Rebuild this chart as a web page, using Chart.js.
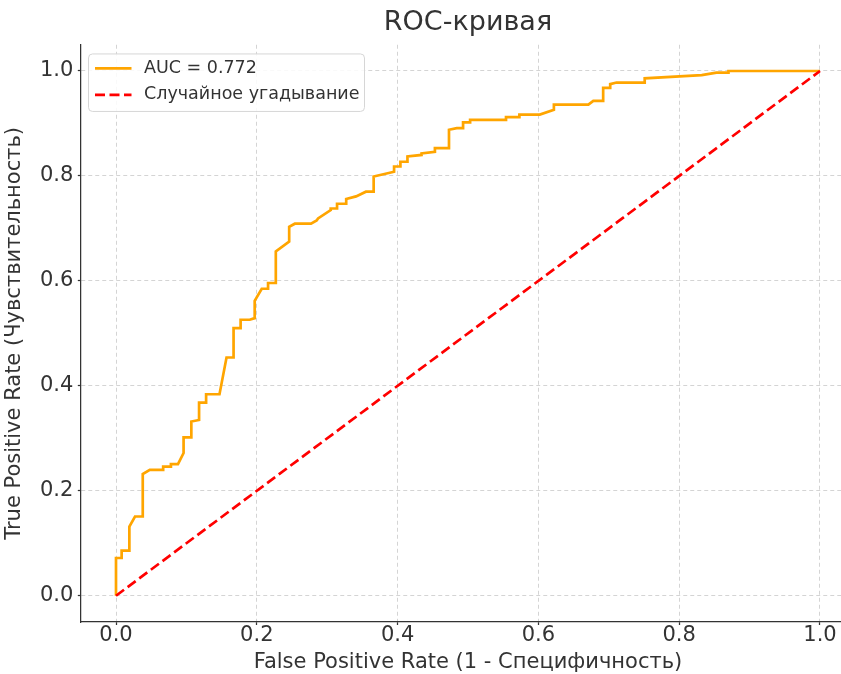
<!DOCTYPE html>
<html>
<head>
<meta charset="utf-8">
<script src="https://cdn.jsdelivr.net/npm/chart.js@4.4.1/dist/chart.umd.min.js"></script>
<style>
  html, body { margin: 0; padding: 0; background: #ffffff; overflow: hidden; }
  #wrap { width: 880px; height: 674px; }
</style>
</head>
<body>
<div id="wrap"><canvas id="roc" width="880" height="674"></canvas></div>
<script>
// ROC curve points (false positive rate / true positive rate)
const fpr = [0, 0, 0.008, 0.008, 0.019, 0.019, 0.027, 0.038, 0.038, 0.048,
  0.067, 0.067, 0.078, 0.078, 0.088, 0.096, 0.096, 0.107, 0.107, 0.118,
  0.118, 0.128, 0.128, 0.147, 0.157, 0.167, 0.167, 0.177, 0.177, 0.190,
  0.197, 0.197, 0.207, 0.216, 0.216, 0.227, 0.227, 0.246, 0.246, 0.254,
  0.277, 0.285, 0.287, 0.305, 0.305, 0.314, 0.314, 0.327, 0.327, 0.341,
  0.355, 0.366, 0.366, 0.395, 0.395, 0.404, 0.404, 0.414, 0.414, 0.434,
  0.434, 0.453, 0.453, 0.473, 0.473, 0.484, 0.493, 0.493, 0.503, 0.503,
  0.554, 0.554, 0.573, 0.573, 0.602, 0.622, 0.622, 0.671, 0.678, 0.692,
  0.692, 0.702, 0.702, 0.711, 0.751, 0.751, 0.832, 0.853, 0.870, 0.870,
  1.0];
const tpr = [0, 0.072, 0.072, 0.086, 0.086, 0.132, 0.151, 0.151, 0.232, 0.240,
  0.240, 0.246, 0.246, 0.251, 0.251, 0.272, 0.302, 0.302, 0.332, 0.335,
  0.368, 0.368, 0.384, 0.384, 0.454, 0.454, 0.510, 0.510, 0.526, 0.526,
  0.529, 0.562, 0.585, 0.585, 0.596, 0.596, 0.656, 0.675, 0.703, 0.709,
  0.709, 0.715, 0.719, 0.735, 0.738, 0.738, 0.747, 0.747, 0.756, 0.761,
  0.770, 0.770, 0.799, 0.808, 0.818, 0.818, 0.827, 0.827, 0.837, 0.840,
  0.843, 0.846, 0.853, 0.853, 0.888, 0.891, 0.891, 0.902, 0.902, 0.907,
  0.907, 0.912, 0.912, 0.917, 0.917, 0.926, 0.936, 0.936, 0.943, 0.943,
  0.968, 0.968, 0.975, 0.978, 0.978, 0.986, 0.992, 0.997, 0.997, 1.0,
  1.0];

// chance diagonal
const chanceX = [0, 1];
const chanceY = [0, 1];

// axis ticks and texts
const tickValues = [0.0, 0.2, 0.4, 0.6, 0.8, 1.0];
const aucLabel = 'AUC = 0.772';
const chanceLabel = 'Случайное угадывание';
const titleText = 'ROC-кривая';
const xTitle = 'False Positive Rate (1 - Специфичность)';
const yTitle = 'True Positive Rate (Чувствительность)';

const FONT = "'DejaVu Sans', 'Liberation Sans', sans-serif";
const TEXT = '#333333';
const ORANGE = '#FFA500';
const RED = '#FF0000';
const DASH = [10, 4.5];
const LINE_W = 2.7;

const rocPoints = fpr.map((x, i) => ({ x: x, y: tpr[i] }));
const chancePoints = chanceX.map((x, i) => ({ x: x, y: chanceY[i] }));

// title centred over the plotting area
const titlePlugin = {
  id: 'axesTitle',
  afterDraw(chart) {
    const { ctx, chartArea } = chart;
    ctx.save();
    ctx.font = '27px ' + FONT;
    ctx.fillStyle = TEXT;
    ctx.textAlign = 'center';
    ctx.textBaseline = 'middle';
    ctx.fillText(titleText, (chartArea.left + chartArea.right) / 2, 22.5);
    ctx.restore();
  }
};

// legend box in the upper-left corner of the plot
const legendPlugin = {
  id: 'cornerLegend',
  afterDraw(chart) {
    const { ctx, chartArea } = chart;
    const items = [
      { label: aucLabel, color: ORANGE, dash: [] },
      { label: chanceLabel, color: RED, dash: DASH }
    ];
    const bx = chartArea.left + 7.2, by = chartArea.top + 8.7;
    const bw = 276, bh = 57.5;
    ctx.save();
    ctx.beginPath();
    ctx.roundRect(bx + 0.5, by + 0.5, bw, bh, 4);
    ctx.fillStyle = 'rgba(255,255,255,0.85)';
    ctx.fill();
    ctx.lineWidth = 1;
    ctx.strokeStyle = '#d6d6d6';
    ctx.stroke();
    ctx.font = '17.5px ' + FONT;
    ctx.textBaseline = 'middle';
    ctx.textAlign = 'left';
    items.forEach((it, i) => {
      const yy = by + 15 + i * 26.5;
      ctx.beginPath();
      ctx.setLineDash(it.dash);
      ctx.lineWidth = LINE_W;
      ctx.strokeStyle = it.color;
      ctx.moveTo(bx + 7, yy);
      ctx.lineTo(bx + 43.5, yy);
      ctx.stroke();
      ctx.setLineDash([]);
      ctx.fillStyle = TEXT;
      ctx.fillText(it.label, bx + 56, yy);
    });
    ctx.restore();
  }
};

const setTicks = (scale) => { scale.ticks = tickValues.map(v => ({ value: v })); };

new Chart(document.getElementById('roc'), {
  type: 'line',
  data: {
    datasets: [
      {
        label: aucLabel,
        data: rocPoints,
        borderColor: ORANGE,
        borderWidth: LINE_W,
        pointRadius: 0,
        tension: 0,
        fill: false,
        order: 1
      },
      {
        label: chanceLabel,
        data: chancePoints,
        borderColor: RED,
        borderWidth: LINE_W,
        borderDash: DASH,
        pointRadius: 0,
        tension: 0,
        fill: false,
        order: 0
      }
    ]
  },
  options: {
    responsive: false,
    animation: false,
    devicePixelRatio: 1,
    layout: { padding: { top: 44.75, right: 24.8, bottom: 0, left: 0 } },
    plugins: {
      legend: { display: false },
      title: { display: false },
      tooltip: { enabled: false }
    },
    scales: {
      x: {
        type: 'linear',
        min: -0.05,
        max: 1.05,
        afterBuildTicks: setTicks,
        afterFit: (s) => { s.height = 52; },
        ticks: {
          callback: (v) => Number(v).toFixed(1),
          font: { family: FONT, size: 21, lineHeight: 1 },
          color: TEXT,
          padding: 0.5,
          maxRotation: 0,
          autoSkip: false
        },
        grid: {
          color: '#d4d4d4',
          lineWidth: 1,
          tickLength: 3,
          tickColor: '#333333',
          tickWidth: 1.25,
          tickBorderDash: []
        },
        border: { color: '#333333', width: 1.25, dash: [4, 3] },
        title: {
          display: true,
          text: xTitle,
          font: { family: FONT, size: 21, lineHeight: 1 },
          color: TEXT,
          padding: { top: 0, bottom: 0.5 }
        }
      },
      y: {
        type: 'linear',
        min: -0.05,
        max: 1.05,
        afterBuildTicks: setTicks,
        afterFit: (s) => { s.width = 80.8; },
        ticks: {
          callback: (v) => Number(v).toFixed(1),
          font: { family: FONT, size: 21, lineHeight: 1 },
          color: TEXT,
          padding: 4.5,
          autoSkip: false
        },
        grid: {
          color: '#d4d4d4',
          lineWidth: 1,
          tickLength: 3,
          tickColor: '#333333',
          tickWidth: 1.25,
          tickBorderDash: []
        },
        border: { color: '#333333', width: 1.25, dash: [4, 3] },
        title: {
          display: true,
          text: yTitle,
          font: { family: FONT, size: 21, lineHeight: 1 },
          color: TEXT,
          padding: { top: 4.5, bottom: 0 }
        }
      }
    }
  },
  plugins: [titlePlugin, legendPlugin]
});
</script>
</body>
</html>
